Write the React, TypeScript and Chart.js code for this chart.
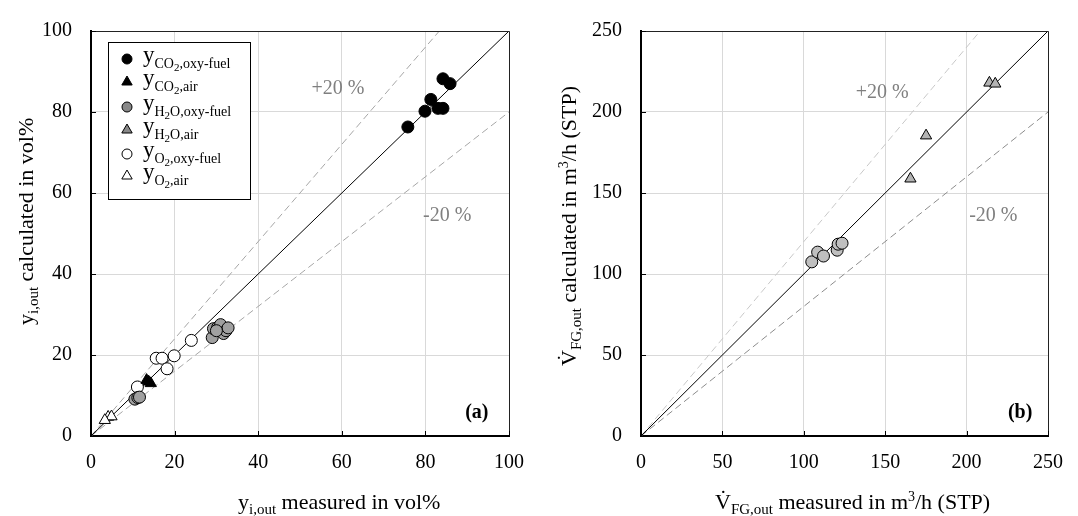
import React, { useEffect, useRef } from "react";
import { Chart, registerables } from "chart.js";
Chart.register(...registerables);

const FONT = "'Liberation Serif', 'Times New Roman', serif";

// ---------- Panel (a): gas composition, vol% ----------
const co2OxyMeasured = [84.2, 85.9, 81.3, 79.9, 83.0, 84.2, 75.8];
const co2OxyCalculated = [88.2, 87.0, 83.1, 80.2, 80.9, 80.9, 76.3];
const co2AirMeasured = [13.3, 13.8, 14.3];
const co2AirCalculated = [13.8, 13.4, 13.0];
const h2oOxyMeasured = [10.5, 11.2, 11.6, 29.0, 29.3, 30.3, 31.0, 31.7, 32.3, 32.8, 30.0];
const h2oOxyCalculated = [9.1, 9.5, 9.6, 24.3, 26.5, 26.8, 27.5, 25.3, 26.0, 26.7, 26.0];
const h2oAirMeasured: number[] = [];
const h2oAirCalculated: number[] = [];
const o2OxyMeasured = [24.0, 15.6, 17.0, 19.9, 18.2, 11.1];
const o2OxyCalculated = [23.6, 19.2, 19.2, 19.8, 16.6, 12.1];
const o2AirMeasured = [4.1, 4.9, 3.3];
const o2AirCalculated = [4.7, 4.8, 3.9];

const aTicks = [0, 20, 40, 60, 80, 100];
const aParity = [[0, 0], [100, 100]];
const aPlus20 = [[0, 0], [83.33, 100]];
const aMinus20 = [[0, 0], [100, 80]];

// ---------- Panel (b): flue gas volume flow, m3/h (STP) ----------
const fgOxyMeasured = [104.9, 108.5, 112.1, 120.5, 121.1, 123.5];
const fgOxyCalculated = [107.5, 113.5, 111.1, 114.7, 118.4, 119.0];
const fgAirMeasured = [214.0, 217.6, 175.1, 165.5];
const fgAirCalculated = [218.0, 217.4, 185.4, 158.8];

const bTicks = [0, 50, 100, 150, 200, 250];
const bParity = [[0, 0], [250, 250]];
const bPlus20 = [[0, 0], [208.33, 250]];
const bMinus20 = [[0, 0], [250, 200]];

type Seg = { t: string; size: number; dy?: number; bold?: boolean };

function drawRich(
  ctx: CanvasRenderingContext2D,
  segs: Seg[],
  x: number,
  y: number,
  align: "left" | "center" | "right",
  rot = 0,
  color = "#000"
) {
  ctx.save();
  ctx.translate(x, y);
  ctx.rotate(rot);
  ctx.textBaseline = "alphabetic";
  ctx.textAlign = "left";
  ctx.fillStyle = color;
  let total = 0;
  const widths = segs.map((s) => {
    ctx.font = `${s.bold ? "bold " : ""}${s.size}px ${FONT}`;
    const w = ctx.measureText(s.t).width;
    total += w;
    return w;
  });
  let cx = align === "left" ? 0 : align === "center" ? -total / 2 : -total;
  segs.forEach((s, i) => {
    ctx.font = `${s.bold ? "bold " : ""}${s.size}px ${FONT}`;
    ctx.fillText(s.t, cx, s.dy || 0);
    cx += widths[i];
  });
  ctx.restore();
}

function drawMarker(ctx: CanvasRenderingContext2D, style: string, x: number, y: number, r: number, fill: string) {
  ctx.save();
  ctx.beginPath();
  if (style === "circle") {
    ctx.arc(x, y, r, 0, Math.PI * 2);
  } else {
    const s = Math.sin((2 * Math.PI) / 3);
    ctx.moveTo(x, y - r);
    ctx.lineTo(x + s * r, y + 0.5 * r);
    ctx.lineTo(x - s * r, y + 0.5 * r);
    ctx.closePath();
  }
  ctx.fillStyle = fill;
  ctx.fill();
  ctx.lineWidth = 1;
  ctx.strokeStyle = "#000";
  ctx.stroke();
  ctx.restore();
}

type Note = { segs: Seg[]; x: number; y: number; color: string };
type LegendItem = { style: string; fill: string; sub: Seg[] };
type Decor = {
  xTitle: { segs: Seg[]; x: number; y: number };
  yTitle: { segs: Seg[]; x: number; y: number };
  notes: Note[];
  legend?: { box: [number, number, number, number]; mx: number; tx: number; rows: number[]; items: LegendItem[] };
};

function decorPlugin(d: Decor) {
  return {
    id: "decor",
    afterDraw(chart: any) {
      const ctx: CanvasRenderingContext2D = chart.ctx;
      const { left, right, top, bottom } = chart.chartArea;
      const xs = chart.scales.x;
      const ys = chart.scales.y;
      ctx.save();
      ctx.strokeStyle = "#222";
      ctx.lineWidth = 1;
      ctx.beginPath();
      ctx.moveTo(left, Math.round(top) + 0.5);
      ctx.lineTo(Math.round(right) + 0.5, Math.round(top) + 0.5);
      ctx.lineTo(Math.round(right) + 0.5, bottom);
      ctx.stroke();
      ctx.strokeStyle = "#000";
      ctx.beginPath();
      xs.ticks.forEach((t: any) => {
        const px = Math.round(xs.getPixelForValue(t.value)) + 0.5;
        ctx.moveTo(px, bottom);
        ctx.lineTo(px, bottom - 5);
      });
      ys.ticks.forEach((t: any) => {
        const py = Math.round(ys.getPixelForValue(t.value)) + 0.5;
        ctx.moveTo(left, py);
        ctx.lineTo(left + 5, py);
      });
      ctx.stroke();
      ctx.restore();
      drawRich(ctx, d.xTitle.segs, d.xTitle.x, d.xTitle.y, "left");
      drawRich(ctx, d.yTitle.segs, d.yTitle.x, d.yTitle.y, "left", -Math.PI / 2);
      d.notes.forEach((n) => {
        drawRich(ctx, n.segs, xs.getPixelForValue(n.x), ys.getPixelForValue(n.y), "center", 0, n.color);
      });
      if (d.legend) {
        const L = d.legend;
        ctx.save();
        ctx.fillStyle = "#fff";
        ctx.fillRect(L.box[0], L.box[1], L.box[2], L.box[3]);
        ctx.strokeStyle = "#000";
        ctx.lineWidth = 1;
        ctx.strokeRect(L.box[0] + 0.5, L.box[1] + 0.5, L.box[2], L.box[3]);
        ctx.restore();
        L.items.forEach((it, i) => {
          const cy = L.rows[i];
          drawMarker(ctx, it.style, L.mx, cy, it.style === "circle" ? 5 : 6, it.fill);
          drawRich(ctx, [{ t: "y", size: 23 }, ...it.sub], L.tx, cy + 3, "left");
        });
      }
    },
  };
}

const pts = (xs: number[], ys: number[]) => xs.map((x, i) => ({ x, y: ys[i] }));
const pairPts = (arr: number[][]) => arr.map((p) => ({ x: p[0], y: p[1] }));

function pointSet(label: string, data: any[], style: string, fill: string) {
  return {
    label,
    data,
    pointStyle: style,
    pointRadius: style === "circle" ? 6 : 6.5,
    pointBackgroundColor: fill,
    pointBorderColor: "#000",
    pointBorderWidth: 1,
    showLine: false,
    order: 1,
  };
}

function lineSet(label: string, arr: number[][], color: string, dash: number[]) {
  return {
    label,
    data: pairPts(arr),
    showLine: true,
    pointRadius: 0,
    borderColor: color,
    borderWidth: 1,
    borderDash: dash,
    fill: false,
    order: 10,
  };
}

function axisOpts(max: number, ticks: number[], fitKey: "width" | "height", fitVal: number, pad: number) {
  return {
    type: "linear",
    min: 0,
    max,
    afterBuildTicks: (s: any) => {
      s.ticks = ticks.map((v) => ({ value: v }));
    },
    afterFit: (s: any) => {
      s[fitKey] = fitVal;
    },
    ticks: { font: { family: FONT, size: 20 }, color: "#000", padding: pad },
    grid: { color: "#d9d9d9", lineWidth: 1, drawTicks: false },
    border: { color: "#000", width: 2 },
  };
}

const sub = (t: string, size = 15, dy = 6): Seg => ({ t, size, dy });

function makeChartA(canvas: HTMLCanvasElement) {
  const decor: Decor = {
    xTitle: { segs: [{ t: "y", size: 22 }, sub("i,out", 15, 5), { t: " measured in vol%", size: 22 }], x: 238, y: 509 },
    yTitle: { segs: [{ t: "y", size: 22 }, sub("i,out", 15, 5), { t: " calculated in vol%", size: 22 }], x: 33, y: 325 },
    notes: [
      { segs: [{ t: "+20 %", size: 20 }], x: 59.1, y: 84.5, color: "#7f7f7f" },
      { segs: [{ t: "-20 %", size: 20 }], x: 85.2, y: 53, color: "#7f7f7f" },
      { segs: [{ t: "(a)", size: 20, bold: true }], x: 92.3, y: 4.5, color: "#000" },
    ],
    legend: {
      box: [108, 42, 142, 157],
      mx: 127,
      tx: 143,
      rows: [59, 82, 107, 130, 154, 176],
      items: [
        { style: "circle", fill: "#000", sub: [sub("CO", 14), sub("2", 11, 9), sub(",oxy-fuel", 14)] },
        { style: "triangle", fill: "#000", sub: [sub("CO", 14), sub("2", 11, 9), sub(",air", 14)] },
        { style: "circle", fill: "#888", sub: [sub("H", 14), sub("2", 11, 9), sub("O,oxy-fuel", 14)] },
        { style: "triangle", fill: "#888", sub: [sub("H", 14), sub("2", 11, 9), sub("O,air", 14)] },
        { style: "circle", fill: "#fff", sub: [sub("O", 14), sub("2", 11, 9), sub(",oxy-fuel", 14)] },
        { style: "triangle", fill: "#fff", sub: [sub("O", 14), sub("2", 11, 9), sub(",air", 14)] },
      ],
    },
  };
  return new Chart(canvas, {
    type: "scatter",
    data: {
      datasets: [
        pointSet("yCO2,oxy-fuel", pts(co2OxyMeasured, co2OxyCalculated), "circle", "#000"),
        pointSet("yCO2,air", pts(co2AirMeasured, co2AirCalculated), "triangle", "#000"),
        pointSet("yH2O,oxy-fuel", pts(h2oOxyMeasured, h2oOxyCalculated), "circle", "#a0a0a0"),
        pointSet("yH2O,air", pts(h2oAirMeasured, h2oAirCalculated), "triangle", "#a0a0a0"),
        pointSet("yO2,oxy-fuel", pts(o2OxyMeasured, o2OxyCalculated), "circle", "#fff"),
        pointSet("yO2,air", pts(o2AirMeasured, o2AirCalculated), "triangle", "#fff"),
        lineSet("parity", aParity, "#000", []),
        lineSet("+20 %", aPlus20, "#a6a6a6", [7, 4]),
        lineSet("-20 %", aMinus20, "#a6a6a6", [7, 4]),
      ] as any,
    },
    options: {
      animation: false,
      responsive: false,
      layout: { padding: { top: 21, right: 30, left: 0, bottom: 0 } },
      plugins: { legend: { display: false }, tooltip: { enabled: false } },
      scales: {
        x: axisOpts(100, aTicks, "height", 80, 15),
        y: axisOpts(100, aTicks, "width", 91, 19),
      } as any,
    },
    plugins: [decorPlugin(decor)],
  });
}

function makeChartB(canvas: HTMLCanvasElement) {
  const decor: Decor = {
    xTitle: {
      segs: [
        { t: "V\u0307", size: 22 },
        sub("FG,out", 15, 5),
        { t: " measured in m", size: 22 },
        { t: "3", size: 14, dy: -8 },
        { t: "/h (STP)", size: 22 },
      ],
      x: 176,
      y: 509,
    },
    yTitle: {
      segs: [
        { t: "V\u0307", size: 22 },
        sub("FG,out", 15, 5),
        { t: " calculated in m", size: 22 },
        { t: "3", size: 14, dy: -8 },
        { t: "/h (STP)", size: 22 },
      ],
      x: 37,
      y: 366,
    },
    notes: [
      { segs: [{ t: "+20 %", size: 20 }], x: 148.1, y: 208.5, color: "#7f7f7f" },
      { segs: [{ t: "-20 %", size: 20 }], x: 216.4, y: 133, color: "#7f7f7f" },
      { segs: [{ t: "(b)", size: 20, bold: true }], x: 232.9, y: 11, color: "#000" },
    ],
  };
  return new Chart(canvas, {
    type: "scatter",
    data: {
      datasets: [
        pointSet("V_FG,out oxy-fuel", pts(fgOxyMeasured, fgOxyCalculated), "circle", "#bfbfbf"),
        pointSet("V_FG,out air", pts(fgAirMeasured, fgAirCalculated), "triangle", "#b3b3b3"),
        lineSet("parity", bParity, "#000", []),
        lineSet("+20 %", bPlus20, "#c8c8c8", [7, 4]),
        lineSet("-20 %", bMinus20, "#8c8c8c", [7, 4]),
      ] as any,
    },
    options: {
      animation: false,
      responsive: false,
      layout: { padding: { top: 21, right: 20, left: 0, bottom: 0 } },
      plugins: { legend: { display: false }, tooltip: { enabled: false } },
      scales: {
        x: axisOpts(250, bTicks, "height", 80, 15),
        y: axisOpts(250, bTicks, "width", 102, 19),
      } as any,
    },
    plugins: [decorPlugin(decor)],
  });
}

export default function App() {
  const refA = useRef<HTMLCanvasElement | null>(null);
  const refB = useRef<HTMLCanvasElement | null>(null);
  useEffect(() => {
    const a = makeChartA(refA.current!);
    const b = makeChartB(refB.current!);
    return () => {
      a.destroy();
      b.destroy();
    };
  }, []);
  return (
    <div style={{ position: "absolute", left: 0, top: 0, width: 1078, height: 516, background: "#fff" }}>
      <canvas ref={refA} width={539} height={516} style={{ position: "absolute", left: 0, top: 0, width: 539, height: 516 }} />
      <canvas ref={refB} width={539} height={516} style={{ position: "absolute", left: 539, top: 0, width: 539, height: 516 }} />
    </div>
  );
}
